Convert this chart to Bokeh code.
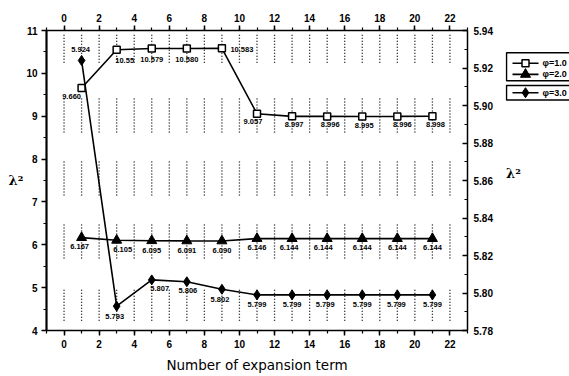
from bokeh.plotting import figure
from bokeh.models import Range1d, LinearAxis, FixedTicker, PrintfTickFormatter
from bokeh.layouts import row
from bokeh.embed import file_html
from bokeh.resources import INLINE
from bokeh.core.properties import value

# ---------------- data ----------------
terms = [1, 3, 5, 7, 9, 11, 13, 15, 17, 19, 21]
phi1 = [9.660, 10.55, 10.579, 10.580, 10.583, 9.057, 8.997, 8.996, 8.995, 8.996, 8.998]
phi2 = [6.167, 6.105, 6.095, 6.091, 6.090, 6.146, 6.144, 6.144, 6.144, 6.144, 6.144]
phi3 = [5.924, 5.793, 5.807, 5.806, 5.802, 5.799, 5.799, 5.799, 5.799, 5.799, 5.799]
labels1 = ["9.660", "10.55", "10.579", "10.580", "10.583", "9.057", "8.997", "8.996", "8.995", "8.996", "8.998"]
labels2 = ["6.167", "6.105", "6.095", "6.091", "6.090", "6.146", "6.144", "6.144", "6.144", "6.144", "6.144"]
labels3 = ["5.924", "5.793", "5.807", "5.806", "5.802", "5.799", "5.799", "5.799", "5.799", "5.799", "5.799"]
series_names = ["\u03c6=1.0", "\u03c6=2.0", "\u03c6=3.0"]
x_ticks = [0, 2, 4, 6, 8, 10, 12, 14, 16, 18, 20, 22]
left_ticks = [4, 5, 6, 7, 8, 9, 10, 11]
right_ticks = [5.78, 5.80, 5.82, 5.84, 5.86, 5.88, 5.90, 5.92, 5.94]
x_label = "Number of expansion term"
y_label = "\u03bb\u00b2"

# ---------------- layout helpers (not data) ----------------
off1x = [-10, 8, 0, 0, 20, -4, 2, 3, 2, 5, 3]
off1y = [9, 11, 11, 11, 1, 8, 8, 8, 9, 8, 8]
off2x = [-2, 6, 0, 0, 0, 0, -3, -4, 0, 0, 0]
off2y = [9, 9, 10, 10, 10, 9, 9, 9, 9, 9, 9]
off3x = [-1, -2, 8, 1, -2, 0, 0, -2, 0, -1, 0]
off3y = [-11, 10, 9, 9, 10, 10, 10, 10, 10, 10, 10]
grid_bands = [(10.25, 10.93), (8.62, 9.44), (7.15, 7.97), (5.68, 6.50), (4.23, 5.0)]

FONT = "Liberation Sans"
W_MAIN, W_SIDE, H = 505, 64, 376

p = figure(width=W_MAIN, height=H, x_range=Range1d(-1, 23), y_range=Range1d(4, 11),
           output_backend="svg", toolbar_location=None,
           min_border_left=46, min_border_right=38, min_border_top=30, min_border_bottom=46)
p.extra_y_ranges = {"r": Range1d(right_ticks[0], right_ticks[-1])}
p.xgrid.visible = False
p.ygrid.visible = False
p.outline_line_color = None
p.background_fill_color = "white"
p.border_fill_color = "white"

# dotted vertical grid in bands
gx = list(range(0, 23))
for (b0, b1) in grid_bands:
    p.segment(x0=gx, y0=[b0] * len(gx), x1=gx, y1=[b1] * len(gx),
              line_color="black", line_width=1.3, line_dash="1 2")

# series
r1l = p.line(terms, phi1, line_color="black", line_width=1.6)
r1m = p.scatter(terms, phi1, marker="square", size=7, fill_color="white",
                line_color="black", line_width=1.5)
r2l = p.line(terms, phi2, line_color="black", line_width=1.6)
r2m = p.scatter(terms, phi2, marker="triangle", size=10, fill_color="black",
                line_color="black")
r3l = p.line(terms, phi3, line_color="black", line_width=1.6, y_range_name="r")
r3m = p.scatter(terms, phi3, marker="diamond", size=10, fill_color="black",
                line_color="black", y_range_name="r")

common = dict(text_font=value(FONT), text_font_size="7.5px", text_font_style="bold",
              text_align="center", text_baseline="middle", text_color="black")
p.text(x=terms, y=phi1, text=labels1, x_offset=off1x, y_offset=off1y, **common)
p.text(x=terms, y=phi2, text=labels2, x_offset=off2x, y_offset=off2y, **common)
p.text(x=terms, y=phi3, text=labels3, x_offset=off3x, y_offset=off3y,
       y_range_name="r", **common)

# axes
def style(ax):
    ax.axis_line_color = "black"
    ax.axis_line_width = 1.5
    ax.major_tick_line_color = "black"
    ax.major_tick_line_width = 1.5
    ax.minor_tick_line_color = "black"
    ax.minor_tick_line_width = 1.2
    ax.major_label_text_font = FONT
    ax.major_label_text_font_size = "10px"
    ax.major_label_text_font_style = "bold"
    ax.major_label_text_color = "black"

xb = p.xaxis[0]
xb.ticker = FixedTicker(ticks=x_ticks, minor_ticks=list(range(-1, 24)))
xb.major_tick_out = 5
xb.major_tick_in = 0
xb.minor_tick_out = 3
xb.minor_tick_in = 0
xb.major_label_standoff = 4
xb.axis_label = x_label
xb.axis_label_text_font = "DejaVu Sans"
xb.axis_label_text_font_size = "13.5px"
xb.axis_label_text_font_style = "normal"
xb.axis_label_text_color = "black"
xb.axis_label_standoff = 6
style(xb)

xt = LinearAxis(ticker=FixedTicker(ticks=x_ticks, minor_ticks=list(range(-1, 24))))
xt.major_tick_out = 5
xt.major_tick_in = 0
xt.minor_tick_out = 3
xt.minor_tick_in = 0
xt.major_label_standoff = 4
style(xt)
p.add_layout(xt, "above")

yl = p.yaxis[0]
yl.ticker = FixedTicker(ticks=left_ticks, minor_ticks=[v + 0.5 for v in range(3, 11)])
yl.major_tick_out = 5
yl.major_tick_in = 0
yl.minor_tick_out = 3
yl.minor_tick_in = 0
yl.major_label_standoff = 4
yl.axis_label = y_label
yl.axis_label_orientation = "horizontal"
yl.axis_label_text_font = "DejaVu Serif"
yl.axis_label_text_font_size = "13px"
yl.axis_label_text_font_style = "bold"
yl.axis_label_text_color = "black"
yl.axis_label_standoff = 0
style(yl)
yl.axis_line_width = 2.2

yr = LinearAxis(y_range_name="r",
                ticker=FixedTicker(ticks=right_ticks,
                                   minor_ticks=[5.79, 5.81, 5.83, 5.85, 5.87, 5.89, 5.91, 5.93]),
                formatter=PrintfTickFormatter(format="%.2f"))
yr.major_tick_in = 5
yr.major_tick_out = 0
yr.minor_tick_in = 3
yr.minor_tick_out = 0
yr.major_label_standoff = 6
style(yr)
p.add_layout(yr, "right")

# ---------------- side panel: legend + right axis title ----------------
s = figure(width=W_SIDE, height=H, x_range=Range1d(0, W_SIDE), y_range=Range1d(H, 0),
           output_backend="svg", toolbar_location=None,
           x_axis_location=None, y_axis_location=None, min_border=0)
s.xgrid.visible = False
s.ygrid.visible = False
s.outline_line_color = None
s.background_fill_color = "white"
s.border_fill_color = "white"

s.quad(left=[1, 1], right=[90, 90], top=[28, 69], bottom=[63, 87],
       fill_color="white", line_color="black", line_width=1.5)
entry_y = [41, 55, 78]
s.segment(x0=[7, 7, 7], x1=[33, 33, 33], y0=entry_y, y1=entry_y,
          line_color="black", line_width=1.6)
s.scatter(x=[20], y=[entry_y[0]], marker="square", size=7, fill_color="white",
          line_color="black", line_width=1.5)
s.scatter(x=[20], y=[entry_y[1]], marker="triangle", size=10, fill_color="black",
          line_color="black")
s.scatter(x=[20], y=[entry_y[2]], marker="diamond", size=10, fill_color="black",
          line_color="black")
s.text(x=[37, 37, 37], y=entry_y, text=series_names, text_font=value(FONT),
       text_font_size="9px", text_font_style="bold", text_baseline="middle",
       text_align="left", text_color="black")
s.text(x=[8], y=[179], text=[y_label], text_font=value("DejaVu Serif"),
       text_font_size="13px", text_font_style="bold", text_baseline="middle",
       text_align="center", text_color="black")

layout = row(p, s)
open("out.html", "w").write(file_html(layout, INLINE))
